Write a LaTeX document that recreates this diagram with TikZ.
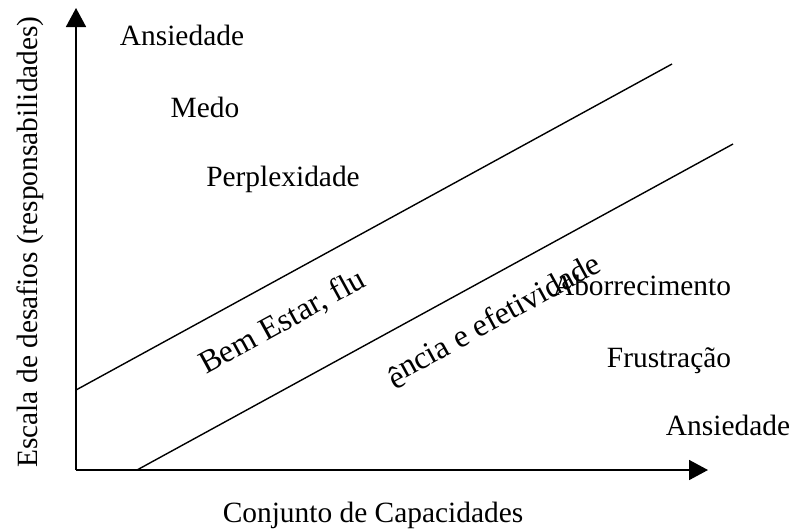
\documentclass[tikz,border=0pt]{standalone}
\usepackage{fontspec}
\setmainfont{Liberation Serif}
\usetikzlibrary{arrows.meta}

\begin{document}
\begin{tikzpicture}[x=0.5pt,y=-0.5pt,
  lbl/.style={inner sep=0pt,anchor=base,font=\fontsize{14.7}{17}\selectfont},
  slant/.style={lbl,rotate=\ang,font=\fontsize{16}{18}\selectfont},
  axis/.style={line width=0.85pt,-{Triangle[length=9.5pt,width=10pt]}},
  band/.style={line width=0.7pt}]
\def\ang{28.7}
\useasboundingbox (0,0) rectangle (790,531);
% axes
\coordinate (o) at (76,470);
\coordinate (ytop) at (76,8);
\coordinate (xend) at (708,470);
\draw[axis] (o) -- (ytop);
\draw[axis] (o) -- (xend);
% band of flow
\coordinate (up1) at (76,390);
\coordinate (up2) at (672,64);
\coordinate (lo1) at (137,470);
\coordinate (lo2) at (733,144);
\draw[band] (up1) -- (up2);
\draw[band] (lo1) -- (lo2);
% labels
\node[lbl] (ansUp) at (182,45) {Ansiedade};
\node[lbl] (medo) at (205,117) {Medo};
\node[lbl] (perp) at (283,186) {Perplexidade};
\node[lbl] (abor) at (642,295) {Aborrecimento};
\node[lbl] (frus) at (669,367) {Frustração};
\node[lbl] (ansLo) at (728,435) {Ansiedade};
\node[slant] (bem) at (287,330) {Bem Estar, flu};
\node[slant] (efet) at (498,328) {\raisebox{-3pt}{ê}ncia e efetividade};
\node[lbl] (xlab) at (373,522) {Conjunto de Capacidades};
\node[lbl,rotate=90] (ylab) at (37,242) {Escala de desafios (responsabilidades)};
\end{tikzpicture}
\end{document}
